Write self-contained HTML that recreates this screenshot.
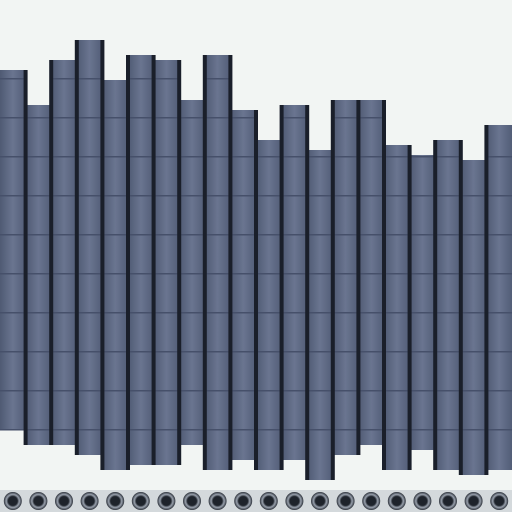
<!DOCTYPE html>
<html><head><meta charset="utf-8"><style>
html,body{margin:0;padding:0;background:#f2f5f3;}
svg{display:block;}
</style></head><body>
<svg id="chart" width="512" height="512" viewBox="0 0 512 512" xmlns="http://www.w3.org/2000/svg">
<defs>
<linearGradient id="colg" x1="0" y1="0" x2="1" y2="0">
<stop offset="0" stop-color="#4f5a73"/><stop offset="0.5" stop-color="#6a7590"/><stop offset="1" stop-color="#525d77"/>
</linearGradient>
<radialGradient id="ring" cx="0.5" cy="0.5" r="0.5">
<stop offset="0.5" stop-color="#1e232b"/><stop offset="0.72" stop-color="#9aa2ae"/><stop offset="1" stop-color="#2c313a"/>
</radialGradient>
</defs>
<rect x="0" y="0" width="512" height="512" fill="#f2f5f3"/>
<g id="cols"></g>
<g id="strip"></g>
</svg>
<script>
const columnTop = [70,105,60,40,80,55,60,100,55,110,140,105,150,100,100,145,155,140,160,125];
const columnBottom = [430,445,445,455,470,465,465,445,470,460,470,460,480,455,445,470,450,470,475,470];
const rowCount = 12;
const NS = "http://www.w3.org/2000/svg";
const W = 512, n = columnTop.length, cw = W / n;
const cols = document.getElementById('cols');
function xAt(i){ return i * cw; }
for (let i = 0; i < n; i++) {
  const r = document.createElementNS(NS, 'rect');
  
  
  r.setAttribute('x', xAt(i));
  r.setAttribute('y', columnTop[i]);
  r.setAttribute('width', cw);
  r.setAttribute('height', columnBottom[i] - columnTop[i]);
  r.setAttribute('fill', 'url(#colg)');
  cols.appendChild(r);
  for (let k = 1; k < rowCount; k++) {
    const y = k * 39;
    if (y > columnTop[i] && y < columnBottom[i]) {
      const h = document.createElementNS(NS, 'rect');
      
      
      h.setAttribute('x', xAt(i));
      h.setAttribute('y', y);
      h.setAttribute('width', cw);
      h.setAttribute('height', 1.5);
      h.setAttribute('fill', '#46506a');
      cols.appendChild(h);
    }
  }
}
for (let i = 1; i < n; i++) {
  const top = Math.min(columnTop[i], columnTop[i-1]);
  const bot = Math.max(columnBottom[i], columnBottom[i-1]);
  const l = document.createElementNS(NS, 'rect');
  
  
  l.setAttribute('x', xAt(i) - 2);
  l.setAttribute('y', top);
  l.setAttribute('width', 4);
  l.setAttribute('height', bot - top);
  l.setAttribute('fill', '#1a1f2a');
  cols.appendChild(l);
}
const strip = document.getElementById('strip');
const bg = document.createElementNS(NS, 'rect');


bg.setAttribute('x', 0); bg.setAttribute('y', 490);
bg.setAttribute('width', 512); bg.setAttribute('height', 22);
bg.setAttribute('fill', '#d4d9dc');
strip.appendChild(bg);
for (let i = 0; i < n; i++) {
  const c = document.createElementNS(NS, 'circle');
  
  
  c.setAttribute('cx', xAt(i) + cw / 2);
  c.setAttribute('cy', 501);
  c.setAttribute('r', 9);
  c.setAttribute('fill', 'url(#ring)');
  strip.appendChild(c);
}
</script>
</body></html>
